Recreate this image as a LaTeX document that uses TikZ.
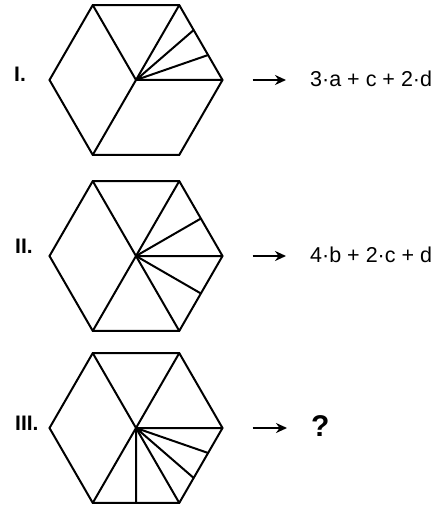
\documentclass[tikz,border=0pt]{standalone}
\usepackage{fontspec}
\setmainfont{Liberation Sans}
\usetikzlibrary{shapes.geometric, arrows.meta, positioning, calc}

\begin{document}
\begin{tikzpicture}[
  x=1pt, y=-1pt,
  hex/.style={regular polygon, regular polygon sides=6, draw=black, line width=2pt, minimum size=173pt, inner sep=0pt, outer sep=0pt},
  cut/.style={draw=black, line width=2pt},
  num/.style={anchor=base west, inner sep=0pt, font=\fontsize{21}{25}\selectfont\bfseries},
  res/.style={anchor=west, inner sep=0pt, font=\fontsize{21.5}{26}\selectfont},
  arrow/.style={line width=2pt, -{Stealth[length=11pt,width=10pt]}, shorten <=30pt, shorten >=24pt}
]
\useasboundingbox (0,0) rectangle (441,510);

\node (hex1) [hex] at (136,80) {};
\node (hex2) [hex] at (136,256) {};
\node (hex3) [hex] at (136,428) {};

\node (lab1) [num] at (14,82) {I.};
\node (lab2) [num] at (15,253) {II.};
\node (lab3) [num] at (15,430) {III.};

\node (res1) [res] at (310,79) {3·a + c + 2·d};
\node (res2) [res] at (310,255) {4·b + 2·c + d};
\node (res3) [res, font=\fontsize{30}{34}\selectfont\bfseries] at (311,426) {?};

% first hexagon
\draw [cut] (hex1.center) -- (hex1.120) (hex1.center) -- (hex1.240)
  (hex1.center) -- (hex1.0) (hex1.center) -- (hex1.60);
\draw [cut] (hex1.center) -- ($(hex1.60)!1/3!(hex1.0)$)
  (hex1.center) -- ($(hex1.60)!2/3!(hex1.0)$);

% second hexagon
\draw [cut] (hex2.center) -- (hex2.120) (hex2.center) -- (hex2.240)
  (hex2.center) -- (hex2.60) (hex2.center) -- (hex2.0) (hex2.center) -- (hex2.300);
\draw [cut] (hex2.center) -- (hex2.30) (hex2.center) -- (hex2.330);

% third hexagon
\draw [cut] (hex3.center) -- (hex3.120) (hex3.center) -- (hex3.240)
  (hex3.center) -- (hex3.60) (hex3.center) -- (hex3.0) (hex3.center) -- (hex3.300);
\draw [cut] (hex3.center) -- ($(hex3.0)!1/3!(hex3.300)$)
  (hex3.center) -- ($(hex3.0)!2/3!(hex3.300)$)
  (hex3.center) -- (hex3.270);

\draw [arrow] (hex1.east) -- (res1.west |- hex1.east);
\draw [arrow] (hex2.east) -- (res2.west |- hex2.east);
\draw [arrow] (hex3.east) -- (res3.west |- hex3.east);
\end{tikzpicture}
\end{document}
